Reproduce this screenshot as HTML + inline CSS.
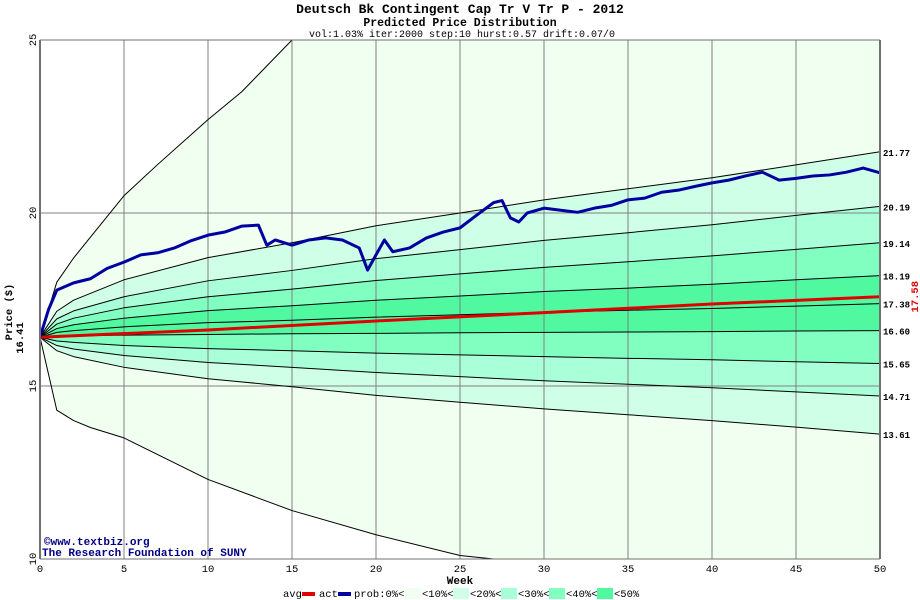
<!DOCTYPE html>
<html><head><meta charset="utf-8"><style>
body{margin:0;background:#fff}
svg{display:block;font-family:"Liberation Mono","DejaVu Sans Mono",monospace}
</style></head><body>
<svg id="c" width="920" height="600" xmlns="http://www.w3.org/2000/svg">
<text x="460" y="13" text-anchor="middle" font-size="13" font-weight="bold">Deutsch Bk Contingent Cap Tr V Tr P - 2012</text>
<text x="460" y="26" text-anchor="middle" font-size="11.5" font-weight="bold">Predicted Price Distribution</text>
<text x="462" y="37" text-anchor="middle" font-size="10">vol:1.03% iter:2000 step:10 hurst:0.57 drift:0.07/0</text>
<g id="plot"></g>
<text x="460" y="584" text-anchor="middle" font-size="11" font-weight="bold">Week</text>
<text transform="translate(12,312) rotate(-90)" text-anchor="middle" font-size="10.5" font-weight="bold">Price ($)</text>
<text transform="translate(23,338) rotate(-90)" text-anchor="middle" font-size="10.5" font-weight="bold">16.41</text>
<text x="44" y="545" font-size="11" font-weight="bold" fill="#000080">©www.textbiz.org</text>
<text x="42" y="556" font-size="11" font-weight="bold" fill="#000080">The Research Foundation of SUNY</text>
<g id="legend" font-size="10.5"></g>
</svg>
<script>
const weeks=[0,1,2,5,10,15,20,25,30,35,40,45,50];
const p90=[16.41,17.16,17.48,18.07,18.71,19.14,19.63,20.0,20.38,20.70,21.02,21.39,21.77];
const p80=[16.41,16.94,17.17,17.58,18.04,18.34,18.68,18.94,19.21,19.43,19.66,19.93,20.19];
const p70=[16.41,16.79,16.96,17.26,17.58,17.80,18.05,18.24,18.43,18.59,18.76,18.95,19.14];
const p60=[16.41,16.66,16.77,16.96,17.18,17.32,17.48,17.60,17.73,17.83,17.94,18.07,18.19];
const p50=[16.41,16.55,16.60,16.71,16.83,16.90,16.99,17.06,17.13,17.19,17.24,17.31,17.38];
const p40=[16.41,16.44,16.45,16.47,16.49,16.51,16.52,16.54,16.55,16.56,16.57,16.59,16.60];
const p30=[16.41,16.30,16.26,16.17,16.08,16.02,15.95,15.90,15.85,15.80,15.76,15.70,15.65];
const p20=[16.41,16.17,16.07,15.88,15.68,15.54,15.39,15.27,15.15,15.05,14.95,14.83,14.71];
const p10=[16.41,16.02,15.85,15.54,15.21,14.98,14.73,14.53,14.34,14.17,14.00,13.81,13.61];
const endLabels=["21.77","20.19","19.14","18.19","17.38","16.60","15.65","14.71","13.61"];
const maxWeeks=[0,1,2,3,5,7,10,12,15,20,30,50];
const maxVals=[16.41,18.0,18.7,19.3,20.5,21.4,22.7,23.5,25.0,26.5,28,30];
const minWeeks=[0,1,2,3,5,10,15,20,25,27,35,50];
const minVals=[16.41,14.3,14.0,13.8,13.5,12.3,11.4,10.7,10.1,10.0,9.5,9];
const actWeeks=[0,0.5,1,2,3,4,5,6,7,8,9,10,11,12,13,13.5,14,15,16,17,18,19,19.5,20,20.5,21,22,23,24,25,26,27,27.5,28,28.5,29,30,31,32,33,34,35,36,37,38,39,40,41,42,43,44,45,46,47,48,49,50];
const actVals=[16.41,17.2,17.77,17.98,18.1,18.4,18.58,18.79,18.85,18.99,19.2,19.36,19.45,19.62,19.65,19.07,19.22,19.07,19.22,19.28,19.22,18.99,18.35,18.79,19.22,18.88,18.99,19.28,19.45,19.57,19.94,20.3,20.36,19.86,19.74,20.0,20.14,20.08,20.02,20.14,20.22,20.38,20.43,20.6,20.66,20.77,20.87,20.95,21.07,21.18,20.95,21.0,21.07,21.1,21.18,21.3,21.16];
const avgWeeks=[0,10,20,30,40,50];
const avgVals=[16.41,16.62,16.88,17.12,17.37,17.58];
const xTicks=[0,5,10,15,20,25,30,35,40,45,50];
const yTicks=[10,15,20,25];

const NS="http://www.w3.org/2000/svg";
const X0=40,X1=880,Y0=559,Y1=40;
const xs=w=>X0+(w/50)*(X1-X0);
const ys=p=>Y0-(p-10)/15*(Y0-Y1);
const plot=document.getElementById('plot');
function mk(t,a,par){const e=document.createElementNS(NS,t);for(const k in a)e.setAttribute(k,a[k]);(par||plot).appendChild(e);return e;}
const defs=mk('defs',{});
const cp=mk('clipPath',{id:'clip'},defs);
mk('rect',{x:X0,y:Y1,width:X1-X0,height:Y0-Y1},cp);
const g=mk('g',{'clip-path':'url(#clip)'});
const pts=(W,V)=>W.map((w,i)=>xs(w)+','+ys(V[i]));
function band(WA,A,WB,B,fill,name){
  const p=mk('polygon',{points:pts(WA,A).concat(pts(WB,B).reverse()).join(' '),fill:fill},g);
  
  
}
band(maxWeeks,maxVals,minWeeks,minVals,'#f0fff0','band-0-10');
band(weeks,p90,weeks,p10,'#d0ffe8','band-10-20');
band(weeks,p80,weeks,p20,'#a8ffd8','band-20-30');
band(weeks,p70,weeks,p30,'#80ffc0','band-30-40');
band(weeks,p60,weeks,p40,'#50f8a0','band-40-50');
xTicks.forEach(t=>{const l=mk('line',{x1:xs(t),y1:Y1,x2:xs(t),y2:Y0,stroke:'#808080','stroke-width':1},g);
  });
yTicks.forEach(t=>{const l=mk('line',{x1:X0,y1:ys(t),x2:X1,y2:ys(t),stroke:'#808080','stroke-width':1},g);
  });
function line(W,V,stroke,sw,name){
  const p=mk('polyline',{points:pts(W,V).join(' '),fill:'none',stroke:stroke,'stroke-width':sw,'stroke-linejoin':'round'},g);
  
  
}
line(maxWeeks,maxVals,'#000',1,'upper-extreme-line');
line(minWeeks,minVals,'#000',1,'lower-extreme-line');
[p90,p80,p70,p60,p50,p40,p30,p20,p10].forEach((s,i)=>line(weeks,s,'#000',1,'percentile-line-'+endLabels[i]));
line(avgWeeks,avgVals,'#e00000',3,'avg-line');
line(actWeeks,actVals,'#0000a0',3,'actual-price-line');
mk('line',{x1:X0,y1:Y1,x2:X0,y2:Y0,stroke:'#707070','stroke-width':2});
mk('line',{x1:X1,y1:Y1,x2:X1,y2:Y0,stroke:'#707070','stroke-width':2});
mk('line',{x1:X0,y1:Y1,x2:X1,y2:Y1,stroke:'#707070','stroke-width':1});
mk('line',{x1:X0,y1:Y0,x2:X1,y2:Y0,stroke:'#707070','stroke-width':1});
xTicks.forEach(t=>{const e=mk('text',{x:xs(t),y:572,'text-anchor':'middle','font-size':10.5});e.textContent=t;
  });
yTicks.forEach(t=>{const e=mk('text',{transform:`translate(36,${ys(t)}) rotate(-90)`,'text-anchor':'middle','font-size':10.5});e.textContent=t;
  });
[p90,p80,p70,p60,p50,p40,p30,p20,p10].forEach((s,i)=>{const e=mk('text',{x:883,y:ys(s[s.length-1])+4,'font-size':9,'font-weight':'bold'});
  e.textContent=endLabels[i];});
const al=mk('text',{transform:`translate(918,${ys(avgVals[avgVals.length-1])}) rotate(-90)`,'text-anchor':'middle','font-size':10.5,'font-weight':'bold',fill:'#e00000'});
al.textContent=avgVals[avgVals.length-1].toFixed(2);

const lg=document.getElementById('legend');
function lt(x,s){const e=mk('text',{x:x,y:597},lg);e.textContent=s;}
lt(283,'avg');
mk('rect',{x:302,y:592,width:13,height:4,fill:'#e00000'},lg);
lt(319,'act');
mk('rect',{x:338,y:592,width:13,height:4,fill:'#0000a0'},lg);
lt(354,'prob:0%<');
const lc=['#f0fff0','#d0ffe8','#a8ffd8','#80ffc0','#50f8a0'];
const ll=['<10%<','<20%<','<30%<','<40%<','<50%'];
lc.forEach((c,i)=>{const x0=405+i*48;const r=mk('rect',{x:x0,y:588,width:16,height:11,fill:c},lg);
  lt(x0+17,ll[i]);});
</script>
</body></html>
